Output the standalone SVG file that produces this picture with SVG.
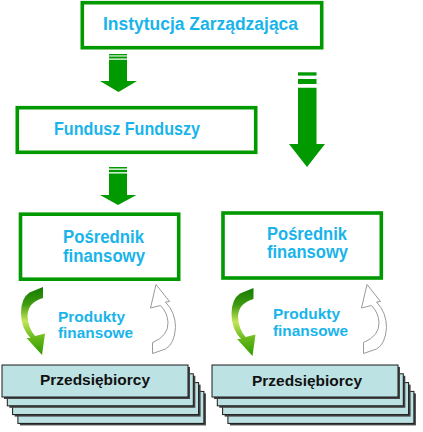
<svg xmlns="http://www.w3.org/2000/svg" width="423" height="432" viewBox="0 0 423 432">
<defs>
<style>
.box{fill:#ffffff;stroke:#009900;stroke-width:3.6}
.t{font-family:"Liberation Sans",Arial,sans-serif;font-weight:bold;fill:#19b4ea}
.ta{font-size:17.5px}
.tb{font-size:15px}
.tp{font-family:"Liberation Sans",Arial,sans-serif;font-weight:bold;font-size:14.5px;fill:#111111}
.blk{fill:#009900}
.card{fill:#bde2e3;stroke:#1a1a1a;stroke-width:1}
.shd{fill:#444444}
.gray{fill:#ffffff;stroke:#9a9a9a;stroke-width:1}
</style>
<linearGradient id="gg" x1="0" y1="0" x2="0" y2="1">
<stop offset="0" stop-color="#127a00"/>
<stop offset="0.25" stop-color="#3f9a10"/>
<stop offset="0.5" stop-color="#c4e657"/>
<stop offset="0.75" stop-color="#66b81a"/>
<stop offset="1" stop-color="#2f9a00"/>
</linearGradient>
<path id="garrow" d="M43,287 L43,298 Q28,302 27.5,316 Q28,328 35,336 L45,333.5 L42,355 L26.5,338 L30.5,338 Q21,328 21,313 Q21,298 29.5,292.5 Z"/>
<path id="harrow" d="M152.5,353.5 L152.5,342.5 Q168.5,336 168,322.5 Q167.5,312.5 160.5,305.5 L150.5,308 L156,284.5 L169.5,301.5 L165.5,302 Q175.5,312.5 175.5,327.5 Q174.5,344 165.5,349 Z"/>
<g id="stackshape">
<rect class="shd" x="19.9" y="393.4" width="186" height="32"/>
<rect class="card" x="17.9" y="391.4" width="186" height="32"/>
<rect class="shd" x="14.6" y="384.6" width="186" height="32"/>
<rect class="card" x="12.6" y="382.6" width="186" height="32"/>
<rect class="shd" x="9.3" y="375.8" width="186" height="32"/>
<rect class="card" x="7.3" y="373.8" width="186" height="32"/>
<rect class="shd" x="4" y="367" width="186" height="32"/>
<rect class="card" x="2" y="365" width="186" height="32"/>
</g>
</defs>

<g id="connectors">
<g id="arrow-iz-ff">
<rect class="blk" x="109" y="54" width="18" height="1.4"/>
<rect class="blk" x="109" y="56.5" width="18" height="2"/>
<path class="blk" d="M109,59.7 H127 V81 H137 L118.5,92 L100,81 H109 Z"/>
</g>
<g id="arrow-ff-pf1">
<rect class="blk" x="109" y="167" width="18" height="1.5"/>
<rect class="blk" x="109" y="169.8" width="18" height="2.4"/>
<path class="blk" d="M109,173.5 H127 V195 H136.5 L118,205 L100,195 H109 Z"/>
</g>
<g id="arrow-iz-pf2">
<rect class="blk" x="298" y="72.3" width="18.5" height="3.3"/>
<rect class="blk" x="298" y="79" width="18.5" height="5"/>
<path class="blk" d="M298,87.7 H316.5 V144 H325 L307,167 L289,144 H298 Z"/>
</g>
<use href="#garrow" fill="url(#gg)"/>
<use href="#garrow" fill="url(#gg)" transform="translate(210.5,1)"/>
<use href="#harrow" class="gray"/>
<use href="#harrow" class="gray" transform="translate(211,0)"/>
</g>

<g id="instytucja">
<rect class="box" x="82.3" y="2.7" width="239.4" height="45"/>
<text class="t ta" x="103" y="30" textLength="195" lengthAdjust="spacingAndGlyphs">Instytucja Zarządzająca</text>
</g>

<g id="fundusz">
<rect class="box" x="17.3" y="107.7" width="238.4" height="44.6"/>
<text class="t ta" x="54" y="135" textLength="146" lengthAdjust="spacingAndGlyphs">Fundusz Funduszy</text>
</g>

<g id="posrednik1">
<rect class="box" x="20.5" y="214.2" width="158.2" height="65"/>
<text class="t ta" x="63" y="243" textLength="81" lengthAdjust="spacingAndGlyphs">Pośrednik</text>
<text class="t ta" x="63" y="262" textLength="82" lengthAdjust="spacingAndGlyphs">finansowy</text>
</g>

<g id="posrednik2">
<rect class="box" x="223" y="213" width="158.3" height="65"/>
<text class="t ta" x="267" y="239.5" textLength="80" lengthAdjust="spacingAndGlyphs">Pośrednik</text>
<text class="t ta" x="267" y="258" textLength="81" lengthAdjust="spacingAndGlyphs">finansowy</text>
</g>

<g id="produkty1">
<text class="t tb" x="58" y="322" textLength="67" lengthAdjust="spacingAndGlyphs">Produkty</text>
<text class="t tb" x="58" y="338" textLength="75" lengthAdjust="spacingAndGlyphs">finansowe</text>
</g>

<g id="produkty2">
<text class="t tb" x="273" y="319" textLength="67" lengthAdjust="spacingAndGlyphs">Produkty</text>
<text class="t tb" x="273" y="336" textLength="75" lengthAdjust="spacingAndGlyphs">finansowe</text>
</g>

<g id="przedsiebiorcy1">
<use href="#stackshape"/>
<text class="tp" x="40" y="385" textLength="110" lengthAdjust="spacingAndGlyphs">Przedsiębiorcy</text>
</g>

<g id="przedsiebiorcy2">
<use href="#stackshape" transform="translate(210,0)"/>
<text class="tp" x="252" y="385.5" textLength="110" lengthAdjust="spacingAndGlyphs">Przedsiębiorcy</text>
</g>
</svg>
